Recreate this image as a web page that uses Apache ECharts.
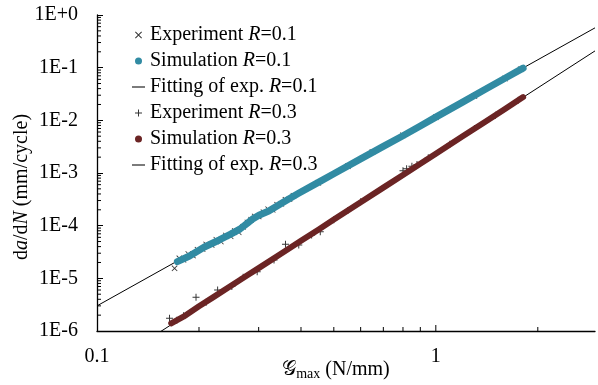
<!DOCTYPE html>
<html>
<head>
<meta charset="utf-8">
<script src="https://cdn.jsdelivr.net/npm/echarts@6/dist/echarts.min.js"></script>
<style>
  html, body { margin: 0; padding: 0; background: #fff; }
  #chart { width: 598px; height: 385px; }
</style>
</head>
<body>
<div id="chart"></div>
<script>
// axis ranges
const xMin = 0.1, xMax = 2.95;
const yMin = 1e-6, yMax = 1;
const xMinorTicks = [0.2, 0.3, 0.4, 0.5, 0.6, 0.7, 0.8, 0.9, 2];
const xMajorTicks = [1];
const yDecades = [1e-6, 1e-5, 1e-4, 1e-3, 1e-2, 1e-1];
const yMinorSteps = [2, 3, 4, 5, 6, 7, 8, 9];

// simulation R=0.1  [Gmax, da/dN]
const simR01 = [
  [0.1727, 2.07e-5], [0.1875, 2.65e-5], [0.2075, 3.94e-5], [0.2296, 5.35e-5],
  [0.2481, 6.9e-5], [0.2640, 8.6e-5], [0.2760, 1.08e-4], [0.2880, 1.34e-4],
  [0.3006, 1.58e-4], [0.3214, 1.90e-4], [0.3556, 2.82e-4], [0.3936, 4.12e-4],
  [0.45, 6.64e-4], [0.5, 9.68e-4], [0.6, 1.85e-3], [0.7, 3.2e-3], [0.8, 5.1e-3],
  [0.9, 7.8e-3], [1.0, 1.15e-2], [1.2, 2.22e-2], [1.4, 3.9e-2], [1.6, 6.3e-2],
  [1.81, 9.8e-2]
];

// simulation R=0.3
const simR03 = [
  [0.1656, 1.40e-6], [0.18, 1.87e-6], [0.2, 2.95e-6], [0.22, 4.35e-6],
  [0.25, 7.4e-6], [0.28, 1.18e-5], [0.3, 1.56e-5], [0.35, 2.96e-5],
  [0.4, 5.16e-5], [0.45, 8.4e-5], [0.5, 1.31e-4], [0.6, 2.79e-4],
  [0.7, 5.28e-4], [0.8, 9.2e-4], [0.9, 1.50e-3], [1.0, 2.33e-3],
  [1.2, 4.97e-3], [1.4, 9.42e-3], [1.6, 1.64e-2], [1.81, 2.76e-2]
];

// experiment R=0.1
const expR01 = [
  [0.1694, 1.55e-5], [0.175, 2.4e-5], [0.18, 2.25e-5], [0.186, 2.9e-5],
  [0.192, 2.7e-5], [0.198, 3.5e-5], [0.205, 3.6e-5], [0.21, 4.4e-5],
  [0.218, 4.3e-5], [0.225, 5.4e-5], [0.232, 5.0e-5], [0.24, 6.5e-5],
  [0.248, 6.3e-5], [0.255, 7.9e-5], [0.262, 7.5e-5], [0.27, 9.5e-5],
  [0.278, 1.15e-4], [0.285, 1.3e-4], [0.292, 1.5e-4], [0.3, 1.5e-4],
  [0.31, 1.8e-4], [0.32, 2.05e-4], [0.33, 2.0e-4], [0.34, 2.5e-4],
  [0.35, 2.6e-4], [0.36, 3.1e-4], [0.37, 3.2e-4], [0.38, 3.7e-4],
  [0.45, 6.5e-4], [0.55, 1.35e-3], [0.65, 2.5e-3], [0.8, 5.2e-3],
  [1.0, 1.15e-2], [1.3, 2.9e-2], [1.6, 6.2e-2], [1.78, 9.3e-2]
];

// experiment R=0.3
const expR03 = [
  [0.1637, 1.74e-6], [0.172, 1.6e-6], [0.18, 1.95e-6], [0.196, 4.37e-6],
  [0.21, 3.5e-6], [0.227, 6.0e-6], [0.25, 7.0e-6], [0.27, 1.05e-5],
  [0.297, 1.34e-5], [0.333, 2.23e-5], [0.36, 4.43e-5], [0.394, 4.3e-5],
  [0.43, 6.65e-5], [0.456, 7.69e-5], [0.5, 1.3e-4], [0.55, 1.95e-4],
  [0.6, 2.85e-4], [0.8, 1.1e-3], [0.82, 1.2e-3], [0.85, 1.35e-3],
  [0.88, 1.45e-3], [0.95, 1.95e-3], [1.1, 3.5e-3], [1.3, 7.0e-3],
  [1.5, 1.25e-2], [1.75, 2.4e-2]
];

// fitting lines (end points read at the plot edges)
const fitR01 = [[0.1, 3.0e-6], [2.95, 0.57]];
const fitR03 = [[0.1, 1.62e-7], [2.95, 0.208]];

const names = [
  'Experiment R=0.1', 'Simulation R=0.1', 'Fitting of exp. R=0.1',
  'Experiment R=0.3', 'Simulation R=0.3', 'Fitting of exp. R=0.3'
];

const crossPath = 'path://M0,1L1,0L5,4L9,0L10,1L6,5L10,9L9,10L5,6L1,10L0,9L4,5Z';
const plusPath = 'path://M4.3,0H5.7V4.3H10V5.7H5.7V10H4.3V5.7H0V4.3H4.3Z';
const dashPath = 'path://M0,0H20V1.6H0Z';
const blue = '#318ba3';
const brown = '#6b2424';
const serif = '"Liberation Serif", "Times New Roman", serif';

const yMinor = [];
yDecades.forEach(d => yMinorSteps.forEach(s => yMinor.push([xMin, s * d])));
const xTickData = xMinorTicks.concat(xMajorTicks).map(v => [v, yMin]);

const chart = echarts.init(document.getElementById('chart'));

chart.setOption({
  animation: false,
  textStyle: { fontFamily: serif },
  grid: { left: 97, right: 0, top: 15, bottom: 54 },
  legend: {
    orient: 'vertical',
    left: 127,
    top: 20,
    itemGap: 6,
    itemWidth: 13,
    itemHeight: 7,
    selectedMode: false,
    data: [
      { name: names[0], icon: crossPath },
      { name: names[1], icon: 'circle' },
      { name: names[2], icon: dashPath },
      { name: names[3], icon: plusPath },
      { name: names[4], icon: 'circle' },
      { name: names[5], icon: dashPath }
    ],
    formatter: n => n.replace('R=', '{i|R}='),
    textStyle: {
      fontFamily: serif, fontSize: 20, color: '#000', lineHeight: 20,
      rich: { i: { fontFamily: serif, fontSize: 20, fontStyle: 'italic', lineHeight: 20 } }
    }
  },
  xAxis: {
    type: 'log',
    logBase: 10,
    min: xMin,
    max: xMax,
    axisLine: { lineStyle: { color: '#000', width: 1.3 } },
    axisTick: { show: false },
    splitLine: { show: false },
    axisLabel: {
      color: '#000', fontSize: 20, fontFamily: serif, margin: 16,
      formatter: v => {
        const e = Math.log10(v);
        return Math.abs(e - Math.round(e)) < 1e-6 ? String(Math.pow(10, Math.round(e))) : '';
      }
    }
  },
  yAxis: {
    type: 'log',
    logBase: 10,
    min: yMin,
    max: yMax,
    interval: 1,
    axisLine: { lineStyle: { color: '#000', width: 1.3 } },
    axisTick: { inside: true, length: 6, lineStyle: { color: '#000', width: 1 } },
    splitLine: { show: false },
    axisLabel: {
      color: '#000', fontSize: 20, fontFamily: serif, margin: 19,
      formatter: v => {
        const e = Math.round(Math.log10(v));
        return '1E' + (e >= 0 ? '+' : '') + e;
      }
    }
  },
  graphic: [
    {
      type: 'text', x: 22, y: 187, rotation: Math.PI / 2,
      style: {
        text: 'd{i|a}/d{i|N} (mm/cycle)',
        font: '20px ' + serif, fill: '#000',
        align: 'center', verticalAlign: 'middle',
        rich: { i: { font: 'italic 20px ' + serif, fill: '#000' } }
      }
    },
    {
      type: 'text', x: 336, y: 370,
      style: {
        text: '\u{1D4A2}{sub|max} (N/mm)',
        font: '20px ' + serif, fill: '#000',
        align: 'center', verticalAlign: 'middle',
        rich: { sub: { font: '14px ' + serif, fill: '#000', verticalAlign: 'bottom', padding: [9, 0, 0, 0] } }
      }
    }
  ],
  series: [
    {
      name: names[2], type: 'line', data: fitR01, z: 1,
      showSymbol: false, lineStyle: { color: '#000', width: 1 }, itemStyle: { color: '#000' }
    },
    {
      name: names[5], type: 'line', data: fitR03, z: 1,
      showSymbol: false, lineStyle: { color: '#000', width: 1 }, itemStyle: { color: '#000' }
    },
    {
      name: names[0], type: 'scatter', data: expR01, z: 2,
      symbol: crossPath, symbolSize: 6, itemStyle: { color: '#000' }
    },
    {
      name: names[3], type: 'scatter', data: expR03, z: 2,
      symbol: plusPath, symbolSize: 7, itemStyle: { color: '#000' }
    },
    {
      name: names[1], type: 'line', data: simR01, z: 3,
      showSymbol: false,
      lineStyle: { color: blue, width: 7, cap: 'round', join: 'round' },
      itemStyle: { color: blue }
    },
    {
      name: names[4], type: 'line', data: simR03, z: 3,
      showSymbol: false,
      lineStyle: { color: brown, width: 6, cap: 'round', join: 'round' },
      itemStyle: { color: brown }
    },
    {
      type: 'custom', data: yMinor, silent: true, z: 4, clip: false,
      renderItem: (params, api) => {
        const p = api.coord([api.value(0), api.value(1)]);
        return { type: 'line', shape: { x1: p[0], y1: p[1], x2: p[0] + 4, y2: p[1] },
          style: { stroke: '#000', lineWidth: 1 } };
      }
    },
    {
      type: 'custom', data: xTickData, silent: true, z: 4, clip: false,
      renderItem: (params, api) => {
        const v = api.value(0);
        const p = api.coord([v, api.value(1)]);
        const len = xMajorTicks.includes(v) ? 6 : 4;
        return { type: 'line', shape: { x1: p[0], y1: p[1], x2: p[0], y2: p[1] - len },
          style: { stroke: '#000', lineWidth: 1 } };
      }
    }
  ]
});
</script>
</body>
</html>
